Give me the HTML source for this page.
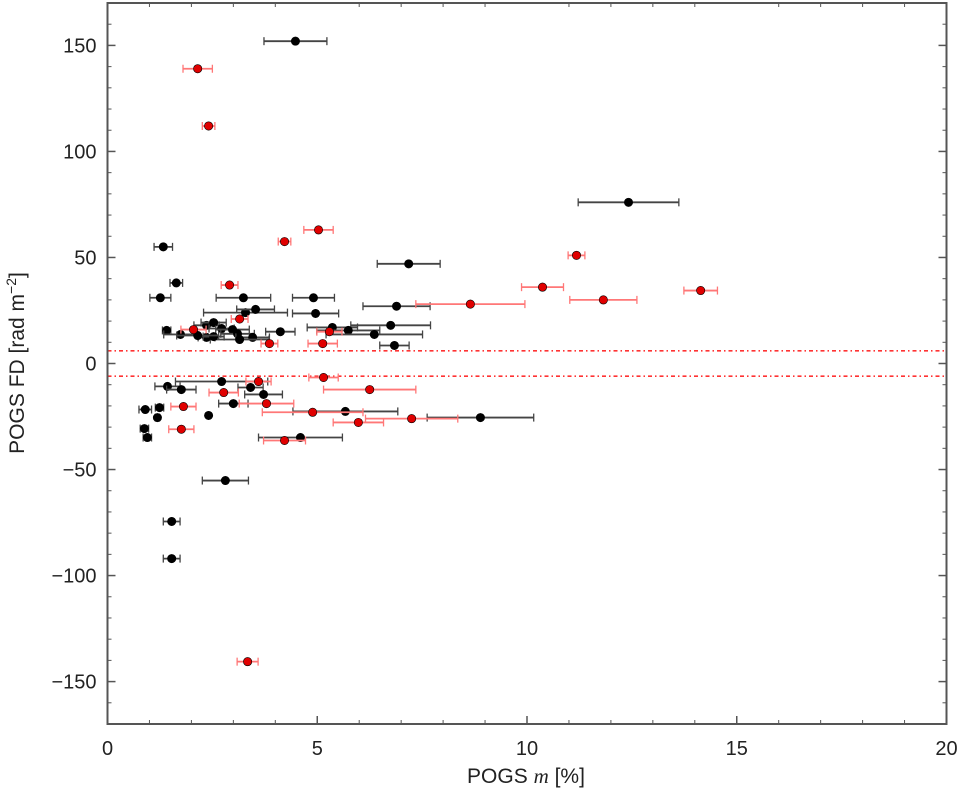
<!DOCTYPE html>
<html><head><meta charset="utf-8">
<style>
html,body{margin:0;padding:0;background:#fff;}
svg{display:block;font-family:"Liberation Sans","DejaVu Sans",sans-serif;}
</style></head>
<body>
<svg id="chart" width="964" height="795" xmlns="http://www.w3.org/2000/svg">
<g id="grid"></g>
<g id="marks"></g>
<rect x="107.5" y="3" width="839" height="721" fill="none" stroke="#555" stroke-width="2"/>
<text x="526" y="783" font-size="21" fill="#222" text-anchor="middle">POGS <tspan font-family="Liberation Serif, serif" font-style="italic">m</tspan> [%]</text>
<text transform="translate(24,363) rotate(-90)" font-size="21" fill="#222" text-anchor="middle">POGS FD [rad m<tspan font-size="14" dy="-8">−2</tspan><tspan dy="8">]</tspan></text>
</svg>
<script>
const blackX=[4.48,12.42,7.18,1.33,1.64,1.26,4.91,3.24,6.89,3.29,3.53,4.96,6.75,5.36,5.74,6.36,1.41,1.74,2.36,2.53,2.72,2.98,3.1,4.12,3.46,3.15,2.36,2.53,2.15,6.84,2.72,3.41,1.43,1.76,3.72,3.0,0.9,1.24,1.19,2.41,5.67,0.88,0.95,4.6,8.89,2.81,1.53,1.53];
const blackY=[152,76,47,55,38,31,31,31,27,24,25.5,23.6,18,17,15.6,13.7,15.6,13.7,18,19.3,16.5,16,14,15,12.3,11.3,12.3,12.7,13.2,8.5,-8.5,-11.3,-10.8,-12.3,-14.6,-18.9,-21.7,-20.8,-25.5,-24.5,-22.6,-30.7,-34.9,-34.9,-25.5,-55.2,-74.5,-92];
const blackErr=[0.75,1.2,0.75,0.22,0.15,0.25,0.5,0.65,0.8,1.0,0.45,0.55,0.95,0.6,0.75,1.15,0.1,0.4,0.3,0.3,0.3,0.4,0.4,0.35,0.4,0.7,0.2,0.25,0.5,0.35,1.1,0.3,0.3,0.35,0.45,0.35,0.15,0.1,0.05,0,1.25,0.1,0.1,1.0,1.27,0.55,0.2,0.2];
const redX=[2.15,2.41,4.22,5.03,11.18,10.37,11.82,14.14,8.65,2.91,3.15,2.05,5.29,3.86,5.13,3.6,5.15,2.77,6.25,3.79,1.81,4.89,7.25,5.98,1.76,4.22,3.34];
const redY=[139,112,57.5,63,51,36,30,34.4,28,37,21,16,15,9.4,9.4,-8.5,-6.6,-13.7,-12.3,-18.9,-20.3,-23,-26,-27.8,-31,-36.3,-140.6];
const redErr=[0.35,0.15,0.15,0.35,0.2,0.5,0.8,0.4,1.3,0.2,0.2,0.3,0.3,0.2,0.35,0.3,0.35,0.35,1.1,0.65,0.3,1.2,1.1,0.6,0.3,0.5,0.25];
const xTicks=[0,5,10,15,20];
const yTicks=[-150,-100,-50,0,50,100,150];
const fdLimit=6;

const NS="http://www.w3.org/2000/svg";
const X0=107.5,X1=946.5,Y0=3,Y1=724;
const xmin=0,xmax=20,ymin=-170,ymax=170;
function sx(v){return X0+(v-xmin)/(xmax-xmin)*(X1-X0);}
function sy(v){return Y1-(v-ymin)/(ymax-ymin)*(Y1-Y0);}
function mk(tag,attrs,parent){const e=document.createElementNS(NS,tag);for(const k in attrs)e.setAttribute(k,attrs[k]);parent.appendChild(e);return e;}
const grid=document.getElementById('grid'),marks=document.getElementById('marks');
// minor ticks
for(let v=1;v<20;v++){if(v%5===0)continue;
 const t=mk('line',{x1:sx(v),x2:sx(v),y1:Y1,y2:Y1-4,stroke:'#555','stroke-width':1},grid);
 
 
 const t2=mk('line',{x1:sx(v),x2:sx(v),y1:Y0,y2:Y0+4,stroke:'#555','stroke-width':1},grid);
 
 }
for(let v=-160;v<=160;v+=10){if(v%50===0)continue;
 const t=mk('line',{x1:X0,x2:X0+4,y1:sy(v),y2:sy(v),stroke:'#555','stroke-width':1},grid);
 
 
 const t2=mk('line',{x1:X1,x2:X1-4,y1:sy(v),y2:sy(v),stroke:'#555','stroke-width':1},grid);
 
 }
xTicks.forEach(v=>{
 const t=mk('line',{x1:sx(v),x2:sx(v),y1:Y1,y2:Y1-8,stroke:'#555','stroke-width':1.5},grid);
 
 
 const l=mk('text',{x:sx(v),y:Y1+31,'font-size':20,fill:'#222','text-anchor':'middle'},grid);
 l.textContent=String(v);
 
 
});
yTicks.forEach(v=>{
 const t=mk('line',{x1:X0,x2:X0+8,y1:sy(v),y2:sy(v),stroke:'#555','stroke-width':1.5},grid);
 
 
 const t2=mk('line',{x1:X1,x2:X1-8,y1:sy(v),y2:sy(v),stroke:'#555','stroke-width':1.5},grid);
 
 
 const l=mk('text',{x:X0-11,y:sy(v)+7,'font-size':20,fill:'#222','text-anchor':'end'},grid);
 l.textContent=v<0?'\u2212'+Math.abs(v):String(v);
 
 
});
[fdLimit,-fdLimit].forEach(v=>{
 const l=mk('line',{x1:X0,x2:X1,y1:sy(v),y2:sy(v),stroke:'#f33','stroke-width':1.6,'stroke-dasharray':'4 3 1.5 3'},grid);
 
 
});
function series(xs,ys,es,col,barCol,name){
 xs.forEach((x,i)=>{
  const g=mk('g',{},marks);
  
  
  const y=sy(ys[i]),a=sx(x-es[i]),b=sx(x+es[i]);
  if(es[i]>0){
   mk('line',{x1:a,x2:b,y1:y,y2:y,stroke:barCol,'stroke-width':1.8},g);
   mk('line',{x1:a,x2:a,y1:y-4,y2:y+4,stroke:barCol,'stroke-width':1.3},g);
   mk('line',{x1:b,x2:b,y1:y-4,y2:y+4,stroke:barCol,'stroke-width':1.3},g);
  }
  mk('circle',{cx:sx(x),cy:y,r:4.2,fill:col,stroke:'#000','stroke-width':0.6},g);
 });
}
series(blackX,blackY,blackErr,'#000','#444','black-point');
series(redX,redY,redErr,'#e00000','#f77','red-point');
</script>
</body></html>
